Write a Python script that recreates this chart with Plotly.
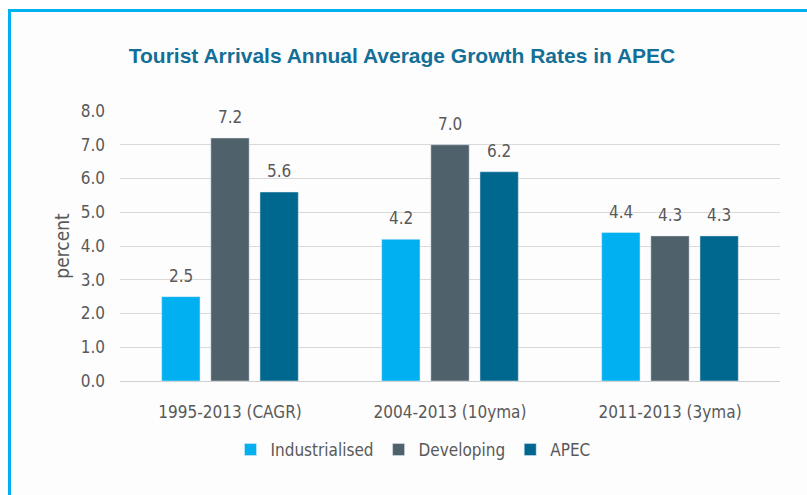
import plotly.graph_objects as go

categories = ["1995-2013 (CAGR)", "2004-2013 (10yma)", "2011-2013 (3yma)"]
industrialised = [2.5, 4.2, 4.4]
developing = [7.2, 7.0, 4.3]
apec = [5.6, 6.2, 4.3]
series_names = ["Industrialised", "Developing", "APEC"]
colors = ["#00b0f0", "#4f616b", "#00678f"]
tick_vals = [0, 1, 2, 3, 4, 5, 6, 7, 8]

W, H = 807, 495
L, R, T, B = 120, 27, 111, 114
pw, ph = W - L - R, H - T - B
BARGAP = 0.33
BARGROUPGAP = 0.22

def px_x(x):
    return (x - L) / pw

def px_y(y):
    return (H - B - y) / ph

font_family = "Liberation Sans Narrow, Arial Narrow, DejaVu Sans Condensed, sans-serif"
gray = "#595959"

fig = go.Figure()
all_series = [industrialised, developing, apec]
for name, vals, col in zip(series_names, all_series, colors):
    fig.add_trace(go.Bar(x=categories, y=vals, name=name, marker_color=col))

# value labels, placed via data coordinates (category, value)
slot = pw / len(categories) * (1 - BARGAP) / len(all_series)
annotations = []
for i, vals in enumerate(all_series):
    for c, v in zip(categories, vals):
        annotations.append(dict(
            x=c, y=v, xref="x", yref="y", text=f"{v:.1f}", showarrow=False,
            xshift=(i - 1) * slot, yshift=21, yanchor="middle",
            font=dict(size=17, color=gray, family=font_family)))

fig.update_layout(
    width=W, height=H,
    margin=dict(l=L, r=R, t=T, b=B),
    paper_bgcolor="white", plot_bgcolor="rgba(0,0,0,0)",
    barmode="group", bargap=BARGAP, bargroupgap=BARGROUPGAP,
    title=dict(text="<b>Tourist Arrivals Annual Average Growth Rates in APEC</b>",
               x=px_x(402), xref="paper", xanchor="center",
               y=1 - 56 / H, yanchor="middle",
               font=dict(size=21, color="#136f97", family="Liberation Sans, Arial, sans-serif")),
    showlegend=True,
    legend=dict(orientation="h", x=px_x(413), xanchor="center", y=px_y(450), yanchor="middle",
                font=dict(size=17, color=gray, family=font_family),
                itemwidth=30, traceorder="normal", bgcolor="rgba(0,0,0,0)"),
    font=dict(family=font_family, color=gray),
    annotations=annotations,
    shapes=[dict(type="rect", xref="paper", yref="paper",
                 x0=px_x(9.5), x1=px_x(830), y0=px_y(10.5), y1=px_y(520),
                 line=dict(color="#00b0f0", width=3), fillcolor="#fdfdfd", layer="below")],
)
fig.update_yaxes(range=[0, 8], tickvals=tick_vals, tickformat=".1f",
                 showgrid=True, gridcolor="#d9d9d9", gridwidth=1,
                 zeroline=False, showline=False,
                 tickfont=dict(size=17, color=gray, family=font_family),
                 ticks="", ticklabelstandoff=14,
                 title=dict(text="percent", font=dict(size=19, color=gray, family=font_family), standoff=6))
fig.update_xaxes(showline=True, linecolor="#d0d0d0", linewidth=1,
                 tickfont=dict(size=17, color=gray, family=font_family), ticks="",
                 ticklabelstandoff=16)

fig.write_html("out.html", config={"displayModeBar": False},
               post_script=["document.body.style.margin='0';"])
